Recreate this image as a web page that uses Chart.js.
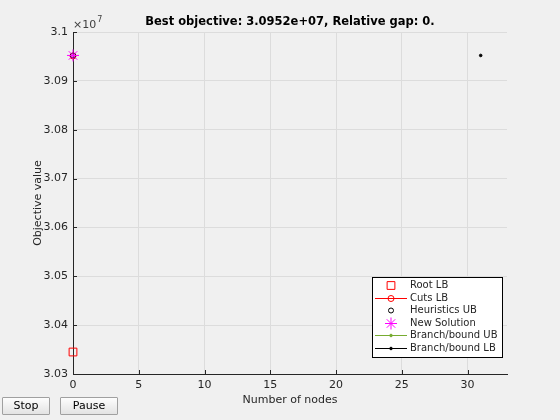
<!DOCTYPE html>
<html>
<head>
<meta charset="utf-8">
<script src="https://cdn.jsdelivr.net/npm/chart.js@4/dist/chart.umd.min.js"></script>
<style>
  html, body { margin:0; padding:0; background:#f0f0f0; }
  #wrap { position:relative; width:560px; height:420px; background:#f0f0f0; overflow:hidden; }
  canvas { position:absolute; left:0; top:0; }
  .btn { position:absolute; top:397px; height:18px; box-sizing:border-box; border:1px solid #a0a0a0;
         background:linear-gradient(#fdfdfd,#e3e3e3); font:11px "DejaVu Sans", sans-serif; color:#000;
         text-align:center; line-height:16px; border-radius:1px; }
</style>
</head>
<body>
<div id="wrap">
  <canvas id="c" width="560" height="420"></canvas>
  <div class="btn" style="left:2px;width:48px;">Stop</div>
  <div class="btn" style="left:60px;width:58px;">Pause</div>
</div>
<script>
// ---- data (objective values in units of 1e7) ----
const seriesNames = ['Root LB', 'Cuts LB', 'Heuristics UB', 'New Solution', 'Branch/bound UB', 'Branch/bound LB'];
const rootLBX = [0];      const rootLBY = [3.0345];
const cutsLBX = [0];      const cutsLBY = [3.0951];
const heurUBX = [0];      const heurUBY = [3.0952];
const newSolX = [0];      const newSolY = [3.0952];
const bbUBX = [];         const bbUBY = [];
const bbLBX = [31];       const bbLBY = [3.0952];
const xTicks = [0, 5, 10, 15, 20, 25, 30];
const yTicks = [3.03, 3.04, 3.05, 3.06, 3.07, 3.08, 3.09, 3.1];
const titleText = 'Best objective: 3.0952e+07, Relative gap: 0.';
const xLabel = 'Number of nodes';
const yLabel = 'Objective value';
const yExponent = '7';

const pts = (xs, ys) => xs.map((x, i) => ({x: x, y: ys[i]}));
const FONT = '"DejaVu Sans", sans-serif';
const TXT = '#262626';

const styles = [
  {color:'#ff0000', pointStyle:'rect', radius:5.5, line:false, fill:'rgba(0,0,0,0)'},
  {color:'#ff0000', pointStyle:'circle', radius:3, line:true, fill:'rgba(0,0,0,0)'},
  {color:'#000000', pointStyle:'circle', radius:2.5, line:false, fill:'rgba(0,0,0,0)'},
  {color:'#ff00ff', pointStyle:'star', radius:6, line:false, fill:'rgba(0,0,0,0)'},
  {color:'#77ac30', pointStyle:'circle', radius:1.3, line:true, fill:'#77ac30'},
  {color:'#000000', pointStyle:'circle', radius:1.3, line:true, fill:'#000000'}
];
const seriesData = [pts(rootLBX, rootLBY), pts(cutsLBX, cutsLBY), pts(heurUBX, heurUBY),
                    pts(newSolX, newSolY), pts(bbUBX, bbUBY), pts(bbLBX, bbLBY)];

const datasets = seriesNames.map((n, i) => ({
  label: n,
  data: seriesData[i],
  showLine: styles[i].line,
  borderColor: styles[i].color,
  backgroundColor: styles[i].fill,
  pointBorderColor: styles[i].color,
  pointBackgroundColor: styles[i].fill,
  pointStyle: styles[i].pointStyle,
  pointRadius: styles[i].radius,
  pointBorderWidth: 1,
  borderWidth: 1,
  clip: false,
  order: 6 - i
}));

const decor = {
  id: 'decor',
  beforeDatasetsDraw(chart) {
    const ctx = chart.ctx, a = chart.chartArea;
    const xs = chart.scales.x, ys = chart.scales.y;
    ctx.save();
    ctx.strokeStyle = TXT; ctx.lineWidth = 1;
    ctx.beginPath();
    xTicks.forEach(v => { const px = Math.round(xs.getPixelForValue(v)) + 0.5; ctx.moveTo(px, a.bottom); ctx.lineTo(px, a.bottom - 4); });
    yTicks.forEach(v => { const py = Math.round(ys.getPixelForValue(v)) + 0.5; ctx.moveTo(a.left, py); ctx.lineTo(a.left + 4, py); });
    ctx.stroke();
    ctx.restore();
  },
  afterDraw(chart) {
    const ctx = chart.ctx, a = chart.chartArea;
    ctx.save();
    // title
    ctx.fillStyle = '#000';
    ctx.font = 'bold 11.5px ' + FONT;
    ctx.textAlign = 'center'; ctx.textBaseline = 'alphabetic';
    ctx.fillText(titleText, (a.left + a.right) / 2, 25);
    // x label
    ctx.fillStyle = TXT;
    ctx.font = '11px ' + FONT;
    ctx.fillText(xLabel, (a.left + a.right) / 2, 403);
    // y label
    ctx.save();
    ctx.translate(41, (a.top + a.bottom) / 2);
    ctx.rotate(-Math.PI / 2);
    ctx.fillText(yLabel, 0, 0);
    ctx.restore();
    // exponent
    ctx.textAlign = 'left';
    ctx.fillStyle = '#404040';
    ctx.font = '11px ' + FONT;
    ctx.fillText('\u00d710', a.left, 28);
    const w = ctx.measureText('\u00d710').width;
    ctx.font = '8px ' + FONT;
    ctx.fillText(yExponent, a.left + w + 1, 22);
    // legend
    const bw = 130, bh = 80;
    const bx = a.right - 5 - bw, by = a.bottom - 17 - bh;
    ctx.fillStyle = '#fff';
    ctx.fillRect(bx, by, bw, bh);
    ctx.strokeStyle = '#000'; ctx.lineWidth = 1;
    ctx.strokeRect(Math.round(bx) + 0.5, Math.round(by) + 0.5, bw, bh);
    ctx.font = '10px ' + FONT;
    ctx.textBaseline = 'middle';
    seriesNames.forEach((n, i) => {
      const cy = Math.round(by + 8 + i * 12.6) + 0.5;
      const s = styles[i];
      if (s.line) {
        ctx.strokeStyle = s.color; ctx.lineWidth = 1;
        ctx.beginPath(); ctx.moveTo(bx + 3, cy); ctx.lineTo(bx + 35, cy); ctx.stroke();
      }
      ctx.strokeStyle = s.color; ctx.fillStyle = s.fill; ctx.lineWidth = 1;
      Chart.helpers.drawPoint(ctx, {pointStyle: s.pointStyle, radius: s.radius, rotation: 0, borderWidth: 1}, bx + 19, cy);
      ctx.fillStyle = TXT;
      ctx.fillText(n, bx + 38, cy);
    });
    ctx.restore();
  }
};

new Chart(document.getElementById('c'), {
  type: 'scatter',
  data: { datasets: datasets },
  plugins: [decor],
  options: {
    responsive: false,
    animation: false,
    events: [],
    layout: { padding: { left: 0, right: 53, top: 32, bottom: 0 } },
    plugins: { legend: { display: false }, title: { display: false }, tooltip: { enabled: false } },
    scales: {
      x: {
        type: 'linear', min: 0, max: 33,
        afterFit(s) { s.height = 46; },
        afterBuildTicks(s) { s.ticks = xTicks.map(v => ({value: v})); },
        ticks: { color: TXT, font: { size: 11, family: FONT }, padding: 5, maxRotation: 0, autoSkip: false },
        grid: { color: '#dcdcdc', drawTicks: false, lineWidth: 1 },
        border: { color: TXT, width: 1 }
      },
      y: {
        type: 'linear', min: 3.03, max: 3.1,
        afterFit(s) { s.width = 73; },
        afterBuildTicks(s) { s.ticks = yTicks.map(v => ({value: v})); },
        ticks: { color: TXT, font: { size: 11, family: FONT }, padding: 5, autoSkip: false,
                 callback: v => String(+v.toFixed(2)) },
        grid: { color: '#dcdcdc', drawTicks: false, lineWidth: 1 },
        border: { color: TXT, width: 1 }
      }
    }
  }
});
</script>
</body>
</html>
